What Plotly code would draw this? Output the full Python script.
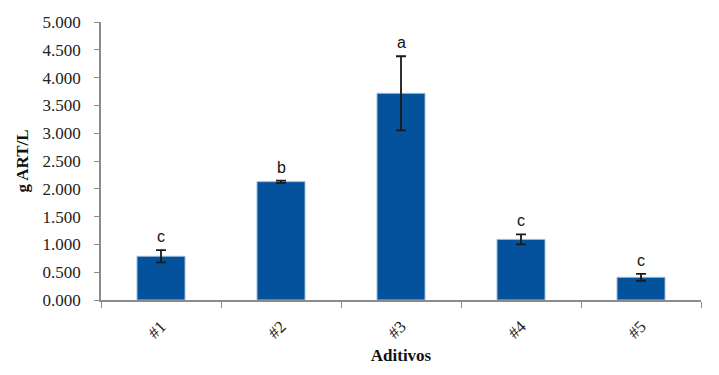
import plotly.graph_objects as go

categories = ["#1", "#2", "#3", "#4", "#5"]
values = [0.786, 2.128, 3.717, 1.09, 0.408]
errors = [0.11, 0.02, 0.667, 0.09, 0.062]
letters = ["c", "b", "a", "c", "c"]
y_ticks = [0, 0.5, 1, 1.5, 2, 2.5, 3, 3.5, 4, 4.5, 5]
y_tick_labels = ["0.000", "0.500", "1.000", "1.500", "2.000", "2.500",
                 "3.000", "3.500", "4.000", "4.500", "5.000"]

SERIF = "Liberation Serif, Times New Roman, serif"

fig = go.Figure()
fig.add_trace(go.Bar(
    x=categories, y=values,
    marker=dict(color="#04529C", line=dict(color="#9DB9D9", width=1)),
    width=0.4,
    error_y=dict(type="data", array=errors, visible=True,
                 color="#1a1a1a", thickness=1.8, width=5),
))

for c, v, e, l in zip(categories, values, errors, letters):
    fig.add_annotation(x=c, y=v + e, text=l, showarrow=False,
                       yanchor="bottom", yshift=3,
                       font=dict(family="Liberation Sans, Arial", size=16, color="#111"))

# page body has an 8px margin, so the figure is sized/offset to compensate
fig.update_layout(
    width=711, height=367,
    margin=dict(l=93, r=18, t=14, b=75),
    plot_bgcolor="white", paper_bgcolor="white",
    showlegend=False,
    font=dict(family=SERIF, size=15, color="#222"),
    bargap=0.6,
)
fig.update_xaxes(
    automargin=False,
    showline=True, linecolor="#8c8c8c", linewidth=1.5,
    ticks="outside", ticklen=6, tickcolor="#8c8c8c", tickson="boundaries",
    tickangle=-45, tickfont=dict(family=SERIF, size=17, color="#222"),
    ticklabelstandoff=8,
    showgrid=False,
    title=dict(text="<b>Aditivos</b>", font=dict(family=SERIF, size=17, color="#111"), standoff=8),
)
fig.update_yaxes(
    automargin=False,
    range=[0, 5], tickvals=y_ticks, ticktext=y_tick_labels,
    showline=True, linecolor="#8c8c8c", linewidth=1.5,
    ticks="outside", ticklen=5, tickcolor="#8c8c8c",
    ticklabelstandoff=10,
    showgrid=False, zeroline=False,
    tickfont=dict(family=SERIF, size=17, color="#222"),
    title=dict(text="<b>g ART/L</b>", font=dict(family=SERIF, size=17, color="#111"), standoff=10),
)

fig.write_html("out.html")
